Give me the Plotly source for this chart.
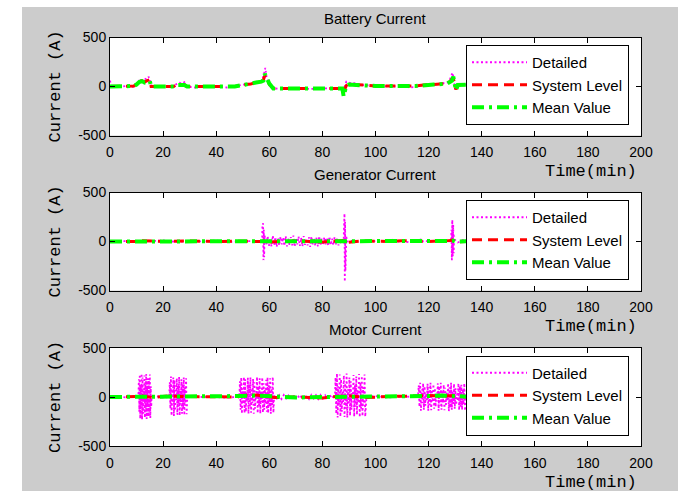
import numpy as np
import plotly.graph_objects as go

# ---------------- data ----------------
x_ticks = [0, 20, 40, 60, 80, 100, 120, 140, 160, 180, 200]
y_ticks = [-500, 0, 500]
y_tick_text = ["-500", "0", "500"]
titles = ["Battery Current", "Generator Current", "Motor Current"]
series_names = ["Detailed", "System Level", "Mean Value"]

# Battery current
bat_mean_t = [0, 8, 9, 10, 11, 12, 13, 14, 15, 15.5, 24, 25, 28, 29, 47, 50, 53, 55, 57, 57.8, 58.3,
              59, 60, 61.5, 87.5, 88, 88.5, 89, 90, 95, 100, 115, 118, 122, 125, 127, 128, 128.8,
              129.3, 129.8, 130.3, 131, 137]
bat_mean = [0, 0, 5, 20, 45, 55, 40, 50, 55, 0, 0, 15, 15, 0, 0, 15, 25, 40, 50, 60, 130,
            80, 30, -20, -20, -100, -40, 10, 20, 15, 5, 5, 15, 20, 25, 30, 45, 60,
            100, 30, -40, 15, 20]
bat_system = [0, 0, 5, 25, 50, 60, 45, 60, 70, 0, 0, 20, 20, 0, 0, 15, 25, 40, 50, 70, 110,
              70, 25, -20, -20, -60, -30, 10, 25, 15, 5, 5, 15, 20, 25, 30, 50, 70,
              90, 20, -30, 15, 20]
bat_detail_t = [0, 0.5, 3, 6, 8, 9, 10, 11, 11.5, 12,
                12.5, 13, 13.5, 14, 14.5, 15, 15.5, 17, 20, 23,
                25, 26, 27, 28, 28.5, 29, 32, 36, 40, 44,
                47, 50, 52, 54, 55, 56, 57, 57.5, 58, 58.5,
                59, 59.5, 60, 61, 62, 66, 70, 75, 80, 85,
                87, 87.5, 88, 88.5, 89, 90, 91, 92, 93, 95,
                98, 100, 105, 110, 113, 115, 118, 120, 122, 124,
                126, 127, 128, 128.5, 129, 129.5, 130, 130.5, 131, 133,
                135, 137]
bat_detail = [60, 0, -5, 5, -10, 0, 15, 60, 80, 50,
              65, 45, 90, 60, 100, 70, 0, -5, 5, -10,
              20, 40, 30, 45, 25, 0, -10, 5, 0, -10,
              5, 15, 25, 35, 50, 40, 55, 80, 130, 190,
              90, 60, 10, -15, -20, -25, -20, -25, -20, -25,
              -20, -40, -90, 10, 50, 40, 30, 35, 20, 15,
              10, 5, 0, 5, -10, -5, 10, 25, 20, 30,
              35, 40, 70, 100, 140, 80, -30, -10, 20, 15,
              25, 20]

# Generator current
gen_mean_t = [0, 10, 12, 20, 30, 40, 50, 57, 58, 60, 70, 80, 88, 89, 95, 105, 110, 120, 128, 129, 130, 137]
gen_mean = [0, 0, 5, 3, 0, 2, 0, 0, 5, 0, -5, 0, 0, -5, 5, 0, 5, 0, 5, 10, 0, 5]
gen_system = [0, 0, 8, 0, 5, 0, 3, 0, 10, -5, 5, -5, 10, -10, 5, 0, 8, 0, 10, 15, -5, 5]
gen_quiet1_t = [0, 5, 10, 11, 13, 15, 20, 25, 30, 35, 40, 45, 50, 55, 57.3]
gen_quiet1 = [0, 5, -5, 10, -10, 5, 10, -5, 5, 0, 10, -5, 5, 0, 0]
gen_spike1_span = [57.4, 58.2]
gen_spike1 = [170, -150, 185, -190, 120, -160, 60]
gen_band_span = [58.4, 88.0]
gen_band = [40, -30, 55, -45, 30, -50, 60, -35, 45, -55, 35, -40, 50, -30, 40, -45, 55, -50,
            30, -35, 45, -40, 60, -55, 35, -30, 50, -45, 40, -50, 55, -35, 30, -40, 45, -55,
            50, -30, 35, -45, 40, -50, 55, -40, 30, -35, 45, -30, 40, -45, 50, -35, 30, -40,
            45, -30, 35, -40, 20, -25, 30, -20]
gen_spike2_span = [88.1, 89.0]
gen_spike2 = [120, -200, 285, -410, 200, -300, 150, -100, 60]
gen_quiet2_t = [89.2, 92, 95, 100, 103, 106, 106.6, 107, 110, 113, 117, 117.5, 118, 122, 125, 128.5]
gen_quiet2 = [0, 10, -5, 5, 0, 10, 25, -5, 5, -10, 20, -10, 5, 0, 10, 0]
gen_spike3_span = [128.6, 129.6]
gen_spike3 = [120, -190, 220, -150, 170, -120, 60]
gen_quiet3_t = [129.8, 131, 133, 135, 137]
gen_quiet3 = [20, -10, 15, 5, 10]

# Motor current
mot_mean_t = [0, 10, 11, 16, 22, 29, 48, 50, 55, 60, 62, 70, 80, 85, 90, 97, 105, 116, 120, 125, 130, 134, 137]
mot_mean = [0, 0, 10, 0, 5, 0, 0, 10, 15, 10, 0, -5, 0, 0, 5, 0, 0, 5, 10, 15, 10, 5, 0]
mot_system = [0, 5, 15, -5, 10, 5, 0, 15, 20, 5, -5, 0, -10, 5, 10, -5, 5, 10, 15, 10, 15, 0, 5]
mot_quiet0_t = [0, 3, 6, 9, 10.5]
mot_quiet0 = [0, 5, -5, 5, 0]
mot_burst1_span = [10.7, 15.7]
mot_burst1 = [0, 180, -150, 230, -220, 120, -90, 240, -230, 200, -170, 60, -40, 220, -210, 150, -120,
              235, -225, 90, -70, 190, -200, 170, -160, 230, -215, 110, -100, 0]
mot_quiet1_t = [15.9, 18, 20, 22.1]
mot_quiet1 = [0, 5, -5, 0]
mot_burst2_span = [22.3, 29.1]
mot_burst2 = [0, 150, -120, 210, -190, 80, -60, 200, -195, 170, -140, 40, -30, 190, -180, 120, -100,
              205, -190, 60, -50, 180, -170, 140, -120, 200, -185, 100, -90, 190, -175, 0]
mot_quiet2_t = [29.3, 33, 38, 43, 48.5]
mot_quiet2 = [0, 5, 0, -5, 0]
mot_burst3_span = [48.7, 61.8]
mot_burst3 = [0, 160, -130, 200, -170, 90, -70, 205, -165, 180, -150, 50, -40, 195, -170, 130, -110,
              200, -160, 70, -60, 185, -170, 150, -120, 30, -25, 205, -165, 110, -90, 190, -170, 60,
              -50, 200, -160, 140, -130, 80, -70, 175, -150, 200, -165, 120, -100, 190, -170, 90,
              -80, 205, -160, 0]
mot_ripple_span = [62.0, 84.5]
mot_ripple = [20, -15, 18, -20, 20, -15, 15, -18, 20, -20, 18, -15, 20, -18, 15, -20, 20, -15, 18,
              -20, 20, -15, 18, -18, 20, -15, 20]
mot_burst4_span = [84.7, 96.4]
mot_burst4 = [0, 200, -170, 240, -210, 110, -80, 230, -200, 180, -150, 60, -50, 220, -205, 140, -120,
              240, -210, 80, -60, 200, -190, 160, -130, 40, -30, 225, -200, 120, -100, 210, -180, 70,
              -60, 235, -205, 150, -120, 215, -195, 100, -90, 230, -200, 0]
mot_quiet4_t = [96.6, 100, 105, 110, 115.8]
mot_quiet4 = [0, 10, -5, 5, 0]
mot_burst5_span = [116.0, 134.0]
mot_burst5 = [0, 120, -100, 145, -140, 80, -60, 140, -130, 110, -90, 40, -30, 135, -140, 100, -80,
              145, -135, 60, -50, 130, -120, 90, -100, 30, -20, 140, -140, 110, -90, 145, -130, 70,
              -60, 125, -135, 95, -80, 50, -40, 140, -145, 100, -110, 145, -130, 60, -70, 135, -120,
              90, -80, 30, -40, 140, -135, 110, -100, 125, -130, 80, -75, 140, -140, 0]
mot_quiet5_t = [134.3, 136, 137]
mot_quiet5 = [0, 5, 0]


def assemble(parts):
    """parts: list of (times_or_span, values, is_span); spans are sampled uniformly."""
    ts, vs = [], []
    for t, v, is_span in parts:
        if is_span:
            t = np.linspace(t[0], t[1], len(v)).tolist()
        ts += list(t)
        vs += list(v)
    return ts, vs


gen_detail_t, gen_detail = assemble([
    (gen_quiet1_t, gen_quiet1, False), (gen_spike1_span, gen_spike1, True),
    (gen_band_span, gen_band, True), (gen_spike2_span, gen_spike2, True),
    (gen_quiet2_t, gen_quiet2, False), (gen_spike3_span, gen_spike3, True),
    (gen_quiet3_t, gen_quiet3, False)])

mot_detail_t, mot_detail = assemble([
    (mot_quiet0_t, mot_quiet0, False), (mot_burst1_span, mot_burst1, True),
    (mot_quiet1_t, mot_quiet1, False), (mot_burst2_span, mot_burst2, True),
    (mot_quiet2_t, mot_quiet2, False), (mot_burst3_span, mot_burst3, True),
    (mot_ripple_span, mot_ripple, True), (mot_burst4_span, mot_burst4, True),
    (mot_quiet4_t, mot_quiet4, False), (mot_burst5_span, mot_burst5, True),
    (mot_quiet5_t, mot_quiet5, False)])

panels = [
    (bat_detail_t, bat_detail, bat_mean_t, bat_system, bat_mean_t, bat_mean),
    (gen_detail_t, gen_detail, gen_mean_t, gen_system, gen_mean_t, gen_mean),
    (mot_detail_t, mot_detail, mot_mean_t, mot_system, mot_mean_t, mot_mean),
]

# ---------------- layout geometry (pixels) ----------------
W, H = 686, 491
def fx(px): return px / W
def fy(py): return 1 - py / H

AX_L, AX_R = 110, 641
AX_TOPS = [37.5, 192.5, 348.0]
AX_H = 98

SANS = "Liberation Sans, Arial, Helvetica, sans-serif"
MONO = "Liberation Mono, Courier New, Courier, Nimbus Mono PS, FreeMono, DejaVu Serif, serif"
TICK_FONT = dict(family=SANS, size=14, color="black")
LABEL_FONT = dict(family=MONO, size=17, color="black")

fig = go.Figure()
styles = [
    dict(color="#ff00ff", width=1.8, dash="2px,2.5px"),
    dict(color="#ff0000", width=3, dash="10px,6px"),
    dict(color="#00ff00", width=4, dash="12px,5px,3px,5px"),
]

annotations = []
layout_axes = {}
for i, (dt, dv, st, sv, mt, mv) in enumerate(panels):
    k = "" if i == 0 else str(i + 1)
    leg = "legend" if i == 0 else f"legend{i + 1}"
    for name, tx, ty, st_ in zip(series_names, [dt, st, mt], [dv, sv, mv], styles):
        fig.add_trace(go.Scatter(x=tx, y=ty, mode="lines", name=name, line=st_,
                                 xaxis="x" + k, yaxis="y" + k, legend=leg))
    top = AX_TOPS[i]
    bot = top + AX_H
    layout_axes["xaxis" + k] = dict(
        domain=[fx(AX_L), fx(AX_R)], anchor="y" + k, range=[0, 200], automargin=False,
        tickmode="array", tickvals=x_ticks, ticks="inside", ticklen=5, tickcolor="black",
        showline=True, linecolor="black", linewidth=1, mirror="ticks",
        showgrid=False, zeroline=False, tickfont=TICK_FONT, ticklabelstandoff=4)
    layout_axes["yaxis" + k] = dict(
        domain=[fy(bot), fy(top)], anchor="x" + k, range=[-500, 500], automargin=False,
        tickmode="array", tickvals=y_ticks, ticktext=y_tick_text, ticks="inside",
        ticklen=5, tickcolor="black", showline=True, linecolor="black", linewidth=1,
        mirror="ticks", showgrid=False, zeroline=False, tickfont=TICK_FONT)
    layout_axes[leg] = dict(
        x=fx(466), y=fy(top + 7.5), xanchor="left", yanchor="top",
        bgcolor="white", bordercolor="black", borderwidth=1,
        font=dict(family=SANS, size=15, color="black"),
        itemwidth=55, tracegroupgap=0)
    annotations.append(dict(text=titles[i], x=fx((AX_L + AX_R) / 2), y=fy(top - 18.5),
                            xanchor="center", yanchor="middle",
                            xref="paper", yref="paper", showarrow=False,
                            font=dict(family=SANS, size=15, color="black")))
    annotations.append(dict(text="Time(min)", x=fx(639), y=fy(bot + 36), xanchor="right",
                            yanchor="middle",
                            xref="paper", yref="paper", showarrow=False, font=LABEL_FONT))
    annotations.append(dict(text="Current (A)", x=fx(55), y=fy(top + AX_H / 2), textangle=-90,
                            xanchor="center", yanchor="middle",
                            xref="paper", yref="paper", showarrow=False, font=LABEL_FONT))

shapes = [
    dict(type="rect", xref="paper", yref="paper", x0=0, x1=fx(22), y0=0, y1=1,
         fillcolor="white", line=dict(width=0), layer="below"),
    dict(type="rect", xref="paper", yref="paper", x0=fx(678), x1=1, y0=0, y1=1,
         fillcolor="white", line=dict(width=0), layer="below"),
    dict(type="rect", xref="paper", yref="paper", x0=0, x1=1, y0=fy(7), y1=1,
         fillcolor="white", line=dict(width=0), layer="below"),
]

fig.update_layout(
    template="none",
    width=W, height=H, margin=dict(l=0, r=0, t=0, b=0, pad=0, autoexpand=False),
    paper_bgcolor="#cccccc", plot_bgcolor="white",
    annotations=annotations, shapes=shapes, showlegend=True,
    **layout_axes)

fig.write_html("out.html", config={"displayModeBar": False},
               post_script="document.body.style.margin='0';document.body.style.overflow='hidden';")
